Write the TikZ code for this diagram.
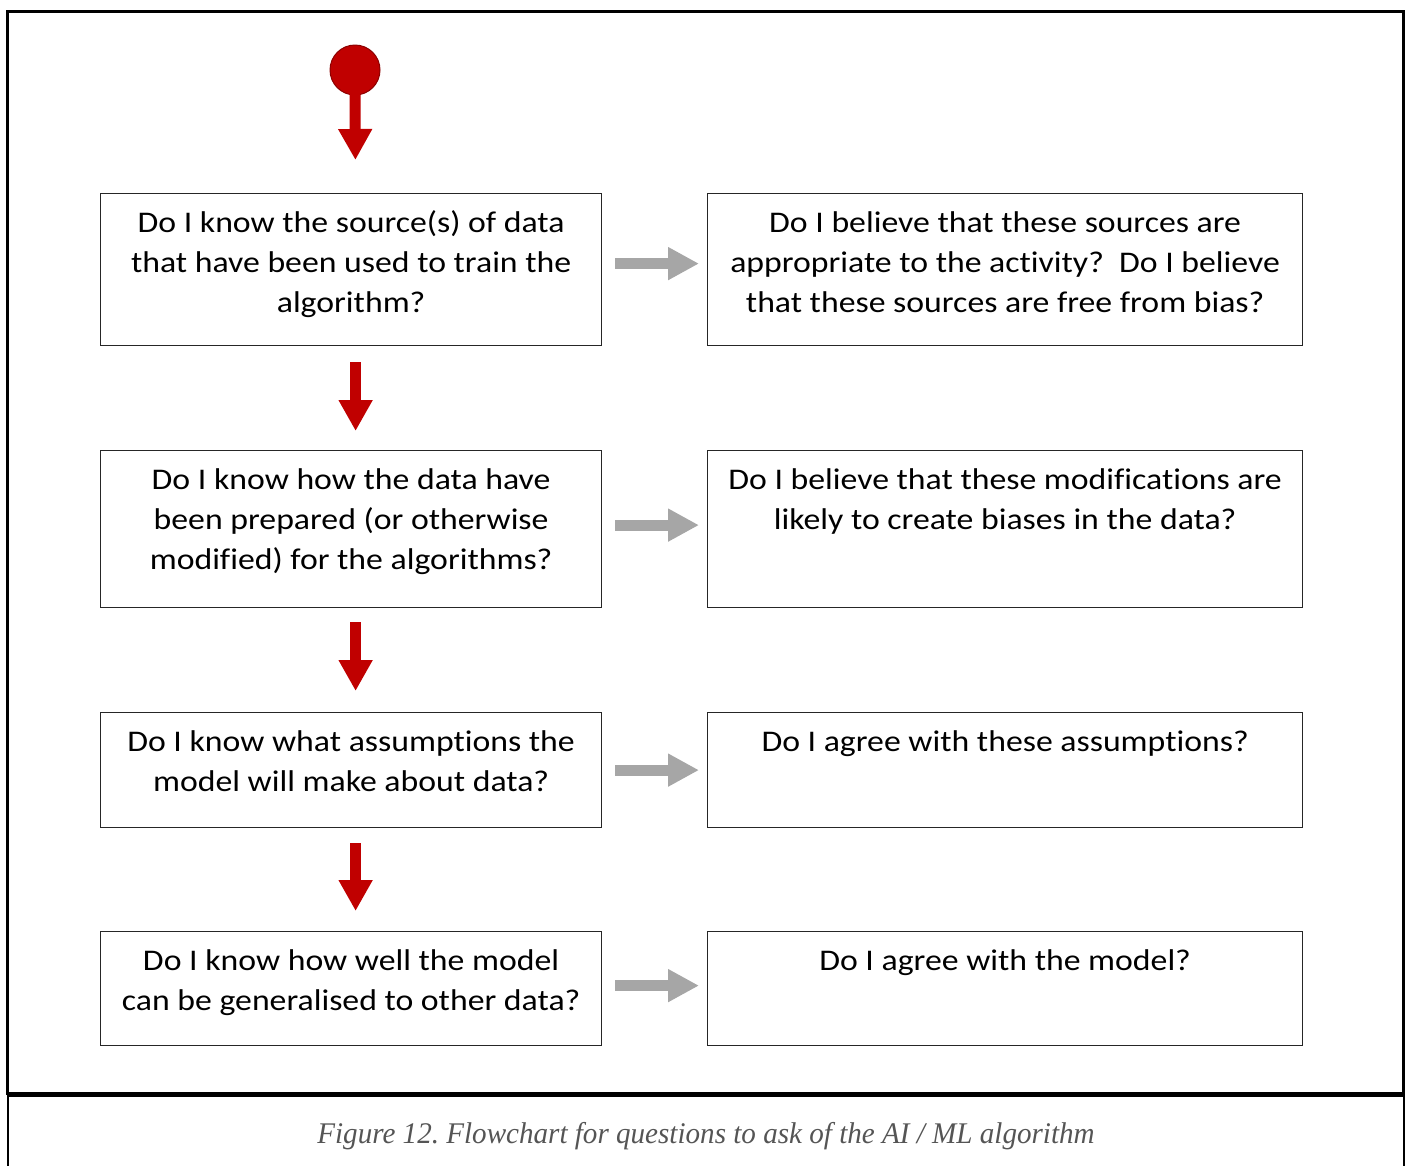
\documentclass[tikz,border=0pt]{standalone}
\usepackage{fontspec}
\setmainfont{Carlito}[FakeStretch=1.125, RawFeature={-liga;-clig;-calt;-dlig}]
\newfontfamily\capfont{Liberation Serif}[FakeStretch=0.97]
\usetikzlibrary{arrows.meta}
\definecolor{startred}{HTML}{C00000}
\definecolor{startedge}{HTML}{8C0000}
\definecolor{arrowgray}{HTML}{A6A6A6}
\definecolor{captiongray}{HTML}{555555}

% one unit of the drawing grid = 0.75pt
\begin{document}
\frenchspacing
\begin{tikzpicture}[x=0.75pt,y=-0.75pt,
  qbox/.style={draw=black!85, line width=0.9pt, rectangle, inner sep=0pt,
    anchor=north west, minimum height=#1},
  leftbox/.style={qbox=#1, minimum width=375.75pt},
  rightbox/.style={qbox=#1, minimum width=446.25pt},
  qtext/.style={anchor=north, align=center, inner sep=0pt,
    font=\fontsize{22.5}{30}\selectfont},
  downarrow/.style={draw=startred, line width=8.25pt, line cap=butt,
    -{Triangle[width=24pt,length=23.25pt]}},
  sidearrow/.style={draw=arrowgray, line width=8.25pt, line cap=butt,
    -{Triangle[width=23.25pt,length=23.25pt]},
    shorten <=9.75pt, shorten >=6pt}]

\useasboundingbox (0,0) rectangle (1407,1165);
\clip (0,0) rectangle (1407,1165);

% frame and caption panel
\draw[line width=2.25pt] (7,11) rectangle (1403,1093);
\draw[line width=1.5pt] (8,1200) -- (8,1096) -- (1404,1096) -- (1404,1200);

% question boxes
\node[leftbox=114pt]     (L1) at (100,193) {};
\node[rightbox=114pt]    (R1) at (707,193) {};
\node[leftbox=117.75pt]  (L2) at (100,450) {};
\node[rightbox=117.75pt] (R2) at (707,450) {};
\node[leftbox=86.25pt]   (L3) at (100,712) {};
\node[rightbox=86.25pt]  (R3) at (707,712) {};
\node[leftbox=85.5pt]    (L4) at (100,931) {};
\node[rightbox=85.5pt]   (R4) at (707,931) {};

% question texts
\node[qtext] (tL1) at ([yshift=-8.25pt]L1.north) {\strut Do I know the source(s) of data\\that have been used to train the\\algorithm?};
\node[qtext] (tR1) at ([yshift=-8.25pt]R1.north) {\strut Do I believe that these sources are\\appropriate to the activity?\ \ Do I believe\\that these sources are free from bias?};
\node[qtext] (tL2) at ([yshift=-8.25pt]L2.north) {\strut Do I know how the data have\\been prepared (or otherwise\\modified) for the algorithms?};
\node[qtext] (tR2) at ([yshift=-8.25pt]R2.north) {\strut Do I believe that these modifications are\\likely to create biases in the data?};
\node[qtext] (tL3) at ([yshift=-8.25pt]L3.north) {\strut Do I know what assumptions the\\model will make about data?};
\node[qtext] (tR3) at ([yshift=-8.25pt]R3.north) {\strut Do I agree with these assumptions?};
\node[qtext] (tL4) at ([yshift=-8.25pt]L4.north) {\strut Do I know how well the model\\can be generalised to other data?};
\node[qtext] (tR4) at ([yshift=-8.25pt]R4.north) {\strut Do I agree with the model?};

% start point
\node[circle, fill=startred, draw=startedge, line width=0.75pt,
      minimum size=37.5pt, inner sep=0pt] (start) at (355,70) {};

% main flow (the red column sits a little right of the box centres)
\draw[downarrow, shorten <=-1.5pt, shorten >=24.75pt]
  (start.south) -- ([xshift=3.375pt]L1.north);
\draw[downarrow, shorten <=12pt, shorten >=14.25pt]
  ([xshift=3.375pt]L1.south) -- ([xshift=3.375pt]L2.north);
\draw[downarrow, shorten <=10.5pt, shorten >=15.75pt]
  ([xshift=3.375pt]L2.south) -- ([xshift=3.375pt]L3.north);
\draw[downarrow, shorten <=11.25pt, shorten >=15pt]
  ([xshift=3.375pt]L3.south) -- ([xshift=3.375pt]L4.north);

% follow-up questions
\draw[sidearrow] ([yshift=4.5pt]L1.east) -- ([yshift=4.5pt]R1.west);
\draw[sidearrow] ([yshift=3pt]L2.east) -- ([yshift=3pt]R2.west);
\draw[sidearrow] (L3.east) -- (R3.west);
\draw[sidearrow] ([yshift=2.25pt]L4.east) -- ([yshift=2.25pt]R4.west);

% caption
\node[anchor=base, inner sep=0pt, text=captiongray,
      font=\capfont\itshape\fontsize{22.5}{27}\selectfont] (caption) at (706,1143)
  {Figure 12. Flowchart for questions to ask of the AI / ML algorithm};
\end{tikzpicture}
\end{document}
